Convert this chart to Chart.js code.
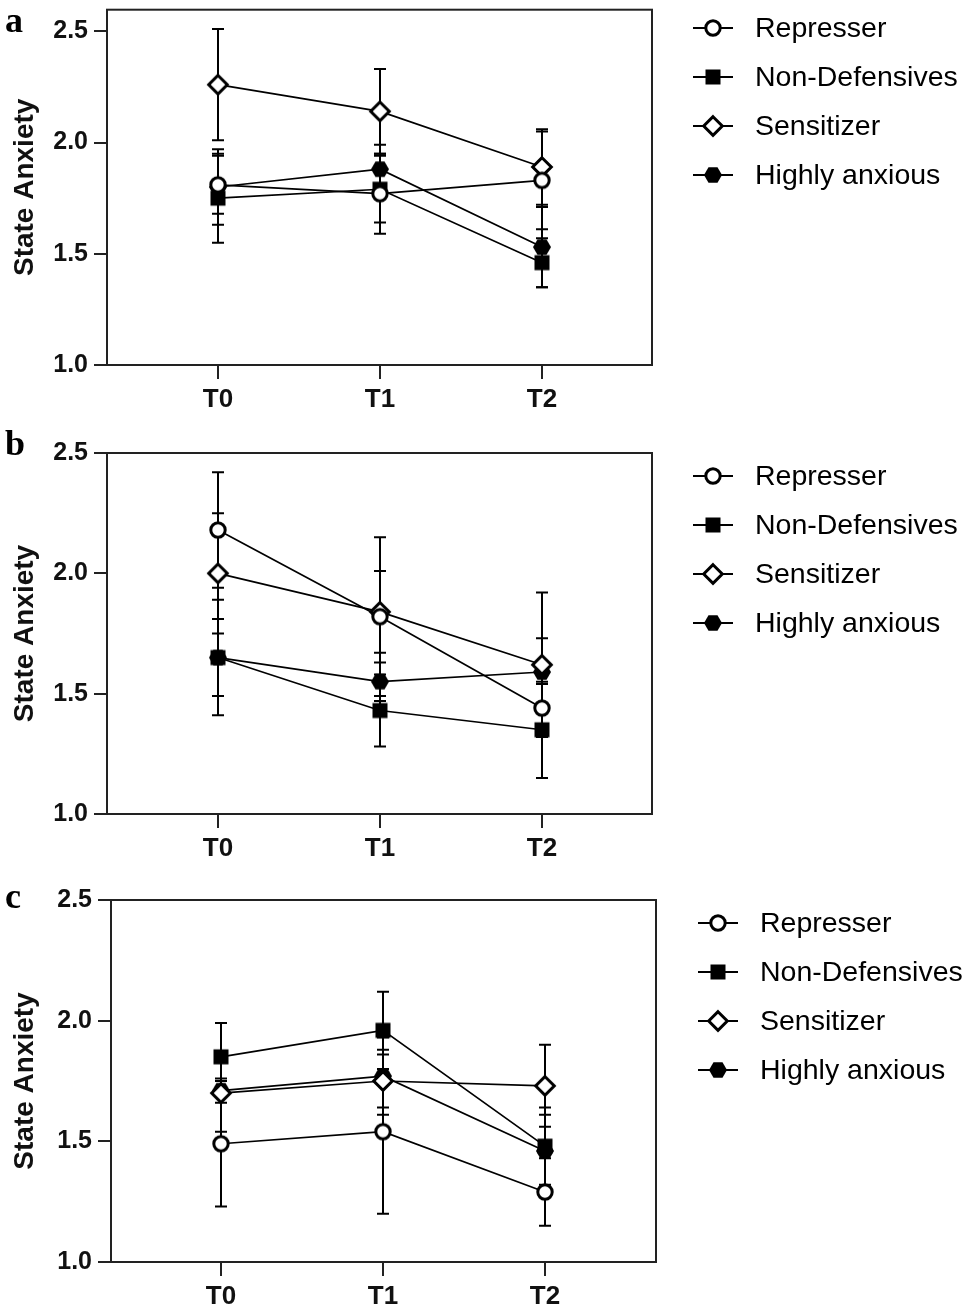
<!DOCTYPE html>
<html>
<head>
<meta charset="utf-8">
<script src="https://cdn.jsdelivr.net/npm/chart.js@4.4.1/dist/chart.umd.min.js"></script>
<style>
  html, body { margin: 0; padding: 0; background: #fff; }
  #wrap { position: relative; width: 968px; height: 1309px; overflow: hidden; }
  #wrap canvas { position: absolute; left: 0; }
</style>
</head>
<body>
<div id="wrap">
  <canvas id="chartA"></canvas>
  <canvas id="chartB"></canvas>
  <canvas id="chartC"></canvas>
</div>
<script>
// data: rows = groups, cols = T0, T1, T2
const timePoints = ['T0', 'T1', 'T2'];
const groups = ['Represser', 'Non-Defensives', 'Sensitizer', 'Highly anxious'];
const yTickValues = [1.0, 1.5, 2.0, 2.5];

const meanA = [
    [1.81, 1.77, 1.83],
    [1.75, 1.79, 1.46],
    [2.26, 2.14, 1.89],
    [1.80, 1.88, 1.53]
];
const errA = [
    [0.13, 0.18, 0.22],
    [0.20, 0.15, 0.11],
    [0.25, 0.19, 0.17],
    [0.17, 0.11, 0.18]
];

const meanB = [
    [2.18, 1.82, 1.44],
    [1.65, 1.43, 1.35],
    [2.00, 1.84, 1.62],
    [1.65, 1.55, 1.59]
];
const errB = [
    [0.24, 0.33, 0.10],
    [0.24, 0.15, 0.20],
    [0.25, 0.17, 0.30],
    [0.16, 0.08, 0.14]
];

const meanC = [
    [1.49, 1.54, 1.29],
    [1.85, 1.96, 1.48],
    [1.70, 1.75, 1.73],
    [1.71, 1.77, 1.46]
];
const errC = [
    [0.26, 0.34, 0.14],
    [0.14, 0.16, 0.16],
    [0.16, 0.11, 0.17],
    [0.05, 0.16, 0.15]
];

const FONT = '"Liberation Sans", Arial, Helvetica, sans-serif';
const INK = '#111';

function makeMarker(kind) {
    const size = 26;
    const c = document.createElement('canvas');
    c.width = size;
    c.height = size;
    const g = c.getContext('2d');
    const m = size / 2;
    g.lineWidth = 3;
    g.strokeStyle = '#000';
    g.fillStyle = '#000';
    g.beginPath();
    if (kind === 'circle') {
        g.arc(m, m, 7.2, 0, Math.PI * 2);
        g.fillStyle = '#fff';
        g.fill();
        g.stroke();
    } else if (kind === 'square') {
        g.fillRect(m - 7.5, m - 7.5, 15, 15);
    } else if (kind === 'diamond') {
        g.moveTo(m, m - 9.3);
        g.lineTo(m + 9.3, m);
        g.lineTo(m, m + 9.3);
        g.lineTo(m - 9.3, m);
        g.closePath();
        g.fillStyle = '#fff';
        g.fill();
        g.stroke();
    } else {
        for (let k = 0; k < 6; k++) {
            const a = k * Math.PI / 3;
            const px = m + 9 * Math.cos(a);
            const py = m + 9 * Math.sin(a);
            if (k === 0) g.moveTo(px, py); else g.lineTo(px, py);
        }
        g.closePath();
        g.fill();
    }
    return c;
}

const markers = [makeMarker('circle'), makeMarker('square'), makeMarker('diamond'), makeMarker('hexagon')];

// error bars go under the lines and markers
const errorBars = {
    id: 'errorBars',
    beforeDatasetsDraw(chart) {
        const ctx = chart.ctx;
        const yScale = chart.scales.y;
        ctx.save();
        ctx.strokeStyle = '#000';
        ctx.lineWidth = 2;
        chart.data.datasets.forEach((ds, i) => {
            const meta = chart.getDatasetMeta(i);
            meta.data.forEach((pt, j) => {
                const v = ds.data[j].y;
                const e = ds.errors[j];
                const top = yScale.getPixelForValue(v + e);
                const bot = yScale.getPixelForValue(v - e);
                ctx.beginPath();
                ctx.moveTo(pt.x, top);
                ctx.lineTo(pt.x, bot);
                ctx.moveTo(pt.x - 6, top);
                ctx.lineTo(pt.x + 6, top);
                ctx.moveTo(pt.x - 6, bot);
                ctx.lineTo(pt.x + 6, bot);
                ctx.stroke();
            });
        });
        ctx.restore();
    }
};

const frameAndLegend = {
    id: 'frameAndLegend',
    beforeDatasetsDraw(chart) {
        const a = chart.chartArea;
        const ctx = chart.ctx;
        ctx.save();
        ctx.strokeStyle = '#222';
        ctx.lineWidth = 2;
        ctx.strokeRect(a.left, a.top, a.right - a.left, a.bottom - a.top);
        ctx.restore();
    },
    afterDraw(chart, args, opts) {
        const ctx = chart.ctx;
        ctx.save();
        // panel letter
        ctx.fillStyle = '#000';
        ctx.font = 'bold 36px "Liberation Serif", "Times New Roman", serif';
        ctx.textBaseline = 'alphabetic';
        ctx.textAlign = 'left';
        ctx.fillText(opts.letter, 5, opts.letterY);
        // legend
        ctx.font = '28.5px ' + FONT;
        ctx.textBaseline = 'middle';
        chart.data.datasets.forEach((ds, i) => {
            const y = opts.legendTop + i * 49;
            ctx.strokeStyle = '#000';
            ctx.lineWidth = 2;
            ctx.beginPath();
            ctx.moveTo(opts.legendX, y);
            ctx.lineTo(opts.legendX + 40, y);
            ctx.stroke();
            const mk = ds.pointStyle;
            ctx.drawImage(mk, opts.legendX + 20 - mk.width / 2, y - mk.height / 2);
            ctx.fillStyle = '#000';
            ctx.fillText(ds.label, opts.legendX + 62, y + 1);
        });
        ctx.restore();
    }
};

function makePanel(cfg) {
    const canvas = document.getElementById(cfg.id);
    canvas.style.top = cfg.top + 'px';
    canvas.width = 968;
    canvas.height = cfg.height;
    canvas.style.width = '968px';
    canvas.style.height = cfg.height + 'px';

    const areaTop = cfg.areaTop - cfg.top;
    const areaBottom = cfg.areaBottom - cfg.top;
    const step = (cfg.t2Px - cfg.t0Px) / 2;
    const xMin = -(cfg.t0Px - cfg.left) / step;
    const xMax = 2 + (cfg.right - cfg.t2Px) / step;
    const padLeft = 4;

    const datasets = groups.map((name, i) => ({
        label: name,
        data: timePoints.map((t, j) => ({ x: j, y: cfg.means[i][j] })),
        errors: cfg.errs[i],
        borderColor: '#000',
        borderWidth: 1.7,
        pointStyle: markers[i],
        pointRadius: 8,
        pointHoverRadius: 8,
        fill: false,
        tension: 0
    }));

    return new Chart(canvas, {
        type: 'line',
        data: { datasets: datasets },
        options: {
            responsive: false,
            animation: false,
            events: [],
            layout: {
                padding: { left: padLeft, right: 968 - cfg.right, top: areaTop, bottom: 0 }
            },
            plugins: {
                legend: { display: false },
                tooltip: { enabled: false },
                frameAndLegend: {
                    letter: cfg.letter,
                    letterY: cfg.letterY - cfg.top,
                    legendTop: cfg.legendTop - cfg.top,
                    legendX: cfg.legendX
                }
            },
            scales: {
                x: {
                    type: 'linear',
                    min: xMin,
                    max: xMax,
                    afterBuildTicks(scale) {
                        scale.ticks = timePoints.map((t, j) => ({ value: j }));
                    },
                    afterFit(scale) {
                        scale.height = cfg.height - areaBottom;
                        scale.paddingLeft = 0;
                        scale.paddingRight = 0;
                    },
                    border: { display: true, color: '#222', width: 2 },
                    grid: {
                        drawOnChartArea: false,
                        drawTicks: true,
                        tickLength: 14,
                        color: '#222',
                        lineWidth: 2
                    },
                    ticks: {
                        autoSkip: false,
                        maxRotation: 0,
                        padding: 5,
                        color: INK,
                        font: { family: FONT, size: 26, weight: 'bold' },
                        callback: (v) => timePoints[v]
                    }
                },
                y: {
                    min: 1.0,
                    max: cfg.yMax,
                    afterBuildTicks(scale) {
                        scale.ticks = yTickValues.map(v => ({ value: v }));
                    },
                    afterFit(scale) {
                        scale.width = cfg.left - padLeft;
                        scale.paddingTop = 0;
                        scale.paddingBottom = 0;
                    },
                    border: { display: true, color: '#222', width: 2 },
                    grid: {
                        drawOnChartArea: false,
                        drawTicks: true,
                        tickLength: 13,
                        color: '#222',
                        lineWidth: 2
                    },
                    ticks: {
                        padding: 6,
                        color: INK,
                        font: { family: FONT, size: 25, weight: 'bold' },
                        callback: (v) => v.toFixed(1)
                    },
                    title: {
                        display: true,
                        text: 'State Anxiety',
                        color: INK,
                        padding: { top: 4, bottom: 4 },
                        font: { family: FONT, size: 28, weight: 'bold' }
                    }
                }
            }
        },
        plugins: [errorBars, frameAndLegend]
    });
}

makePanel({ id: 'chartA', letter: 'a', means: meanA, errs: errA, yMax: 2.597,
    top: 0, height: 430, left: 107, right: 652, areaTop: 4, areaBottom: 365,
    t0Px: 218, t2Px: 542, letterY: 32, legendTop: 28, legendX: 693 });
makePanel({ id: 'chartB', letter: 'b', means: meanB, errs: errB, yMax: 2.5,
    top: 430, height: 450, left: 107, right: 652, areaTop: 453, areaBottom: 814,
    t0Px: 218, t2Px: 542, letterY: 455, legendTop: 476, legendX: 693 });
makePanel({ id: 'chartC', letter: 'c', means: meanC, errs: errC, yMax: 2.5,
    top: 870, height: 439, left: 111, right: 656, areaTop: 900, areaBottom: 1262,
    t0Px: 221, t2Px: 545, letterY: 908, legendTop: 923, legendX: 698 });
</script>
</body>
</html>
